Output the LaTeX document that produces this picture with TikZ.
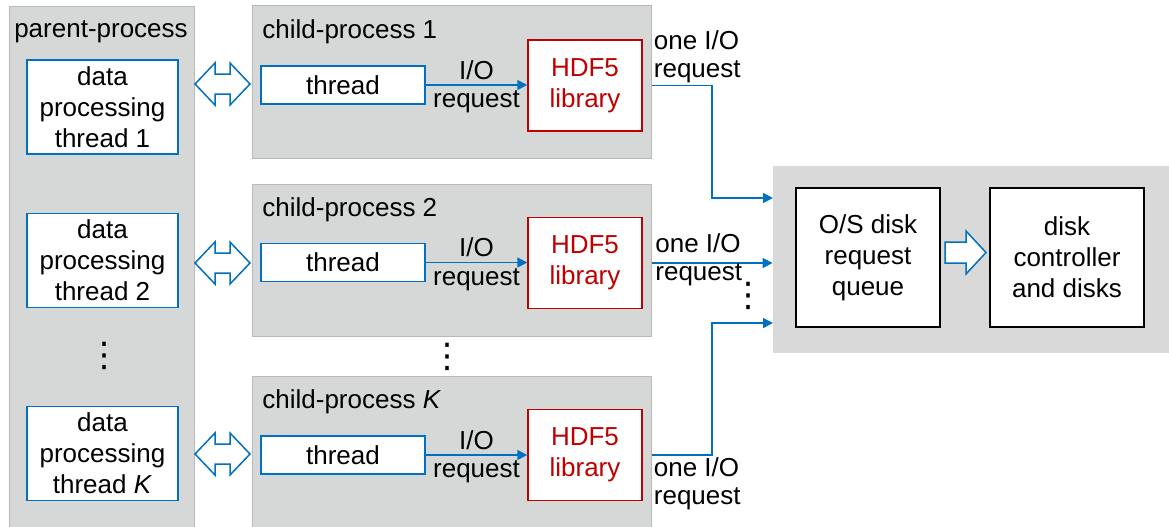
\documentclass[tikz,border=0pt]{standalone}
\usepackage{fontspec}
\setmainfont{Liberation Sans}
\newfontfamily\symfont{DejaVu Sans}
\usetikzlibrary{arrows.meta}
\definecolor{ioblue}{RGB}{0,112,192}
\definecolor{libred}{RGB}{192,0,0}
\definecolor{procgray}{RGB}{214,216,216}
\definecolor{procedge}{RGB}{184,186,186}
\definecolor{diskgray}{RGB}{217,217,217}

\begin{document}
\begin{tikzpicture}[x=0.5pt,y=-0.5pt,
    font=\fontsize{13}{15.5}\selectfont,
    proc/.style={draw=procedge,fill=procgray,line width=0.5pt,inner sep=0pt},
    dpbox/.style={draw=ioblue,fill=white,line width=0.75pt,minimum width=75.5pt,
      minimum height=47pt,align=center,inner sep=0pt},
    thr/.style={draw=ioblue,fill=white,line width=0.75pt,minimum width=82pt,
      minimum height=19pt,inner sep=0pt},
    lib/.style={draw=libred,fill=white,text=libred,line width=0.75pt,minimum width=57pt,
      minimum height=45.5pt,align=center,inner sep=0pt},
    blk/.style={draw=black,fill=white,line width=0.75pt,minimum width=72pt,
      minimum height=69.5pt,align=center,inner sep=0pt},
    hollow/.style={draw=ioblue,fill=white,line width=0.75pt,line join=miter},
    conn/.style={ioblue,line width=0.75pt,-{Triangle[length=5pt,width=5pt]}},
    iolbl/.style={text=black,inner sep=2.5pt},
    note/.style={align=left,inner sep=1pt,font=\fontsize{13}{14}\selectfont},
    vdots/.style={inner sep=0pt,font=\symfont\fontsize{17}{17}\selectfont}]
  \useasboundingbox (0,0) rectangle (1169,526);

  \node[proc,minimum width=92.5pt,minimum height=262pt] (par) at (101.5,268) {};
  \node[inner sep=0pt] (partitle) at (101,32) {parent-process};
  \node[dpbox] (dp1) at (102.5,107) {data\\processing\\thread 1};
  \node[dpbox] (dp2) at (102.5,260.5) {data\\processing\\thread 2};
  \node[dpbox] (dpK) at (102.5,453.5) {data\\processing\\thread \textit{K}};
  \node[vdots] (pdots) at (104,356) {⋮};

  \draw[hollow] (195,84) -- ++(20,-21) -- ++(0,11) -- ++(15,0) -- ++(0,-11) -- ++(20,21)
    -- ++(-20,21) -- ++(0,-11) -- ++(-15,0) -- ++(0,11) -- cycle;
  \draw[hollow] (195,263) -- ++(20,-21) -- ++(0,11) -- ++(15,0) -- ++(0,-11) -- ++(20,21)
    -- ++(-20,21) -- ++(0,-11) -- ++(-15,0) -- ++(0,11) -- cycle;
  \draw[hollow] (195,454) -- ++(20,-21) -- ++(0,11) -- ++(15,0) -- ++(0,-11) -- ++(20,21)
    -- ++(-20,21) -- ++(0,-11) -- ++(-15,0) -- ++(0,11) -- cycle;

  \node[proc,minimum width=199.5pt,minimum height=76.5pt] (ch1) at (451.5,81.5) {};
  \node[anchor=west,inner sep=0pt] (ch1title) at (262,32) {child-process 1};
  \node[thr] (th1) at (343,85) {thread};
  \node[lib] (lib1) at (585,85.5) {HDF5\\library};
  \draw[conn] (th1.east) -- node[iolbl,above]{I/O} node[iolbl,below]{request} (th1.east -| lib1.west);

  \node[proc,minimum width=199.5pt,minimum height=76pt] (ch2) at (451.5,260) {};
  \node[anchor=west,inner sep=0pt] (ch2title) at (262,210) {child-process 2};
  \node[thr] (th2) at (343,262.5) {thread};
  \node[lib] (lib2) at (585,263) {HDF5\\library};
  \draw[conn] (th2.east) -- node[iolbl,above]{I/O} node[iolbl,below]{request} (th2.east -| lib2.west);

  \node[vdots] (cdots) at (447,357) {⋮};

  \node[proc,minimum width=199.5pt,minimum height=77pt] (chK) at (451.5,453) {};
  \node[anchor=west,inner sep=0pt] (chKtitle) at (262,402) {child-process \textit{K}};
  \node[thr] (thK) at (343,455) {thread};
  \node[lib] (libK) at (585,455) {HDF5\\library};
  \draw[conn] (thK.east) -- node[iolbl,above]{I/O} node[iolbl,below]{request} (thK.east -| libK.west);

  \node[fill=diskgray,minimum width=201pt,minimum height=93.5pt,inner sep=0pt] (srv) at (974,259.5) {};
  \node[blk] (osq) at (868,257.5) {O/S disk\\request\\queue};
  \node[blk,minimum width=77pt] (disk) at (1067,257.5) {disk\\controller\\and disks};
  \draw[hollow] (945,242) -- (966,242) -- (966,231) -- (986,252.5) -- (966,274)
    -- (966,263) -- (945,263) -- cycle;

  \coordinate (bus) at (712,0);
  \coordinate (in1) at (773,198);
  \coordinate (inK) at (773,323);
  \draw[conn] (lib1.east -| ch1.east) -- (lib1.east -| bus) |- (in1);
  \draw[conn] (lib2.east -| ch2.east) -- (lib2.east -| srv.west);
  \draw[conn] (libK.east -| chK.east) -- (libK.east -| bus) |- (inK);
  \node[note,anchor=south west] (lbl1) at (lib1.east -| ch1.east) {one I/O\\request};
  \node[note,anchor=west] (lbl2) at (653,260) {one I/O\\request};
  \node[note,anchor=north west] (lblK) at (libK.east -| chK.east) {one I/O\\request};
  \node[vdots] (sdots) at (748,296) {⋮};
\end{tikzpicture}
\end{document}
